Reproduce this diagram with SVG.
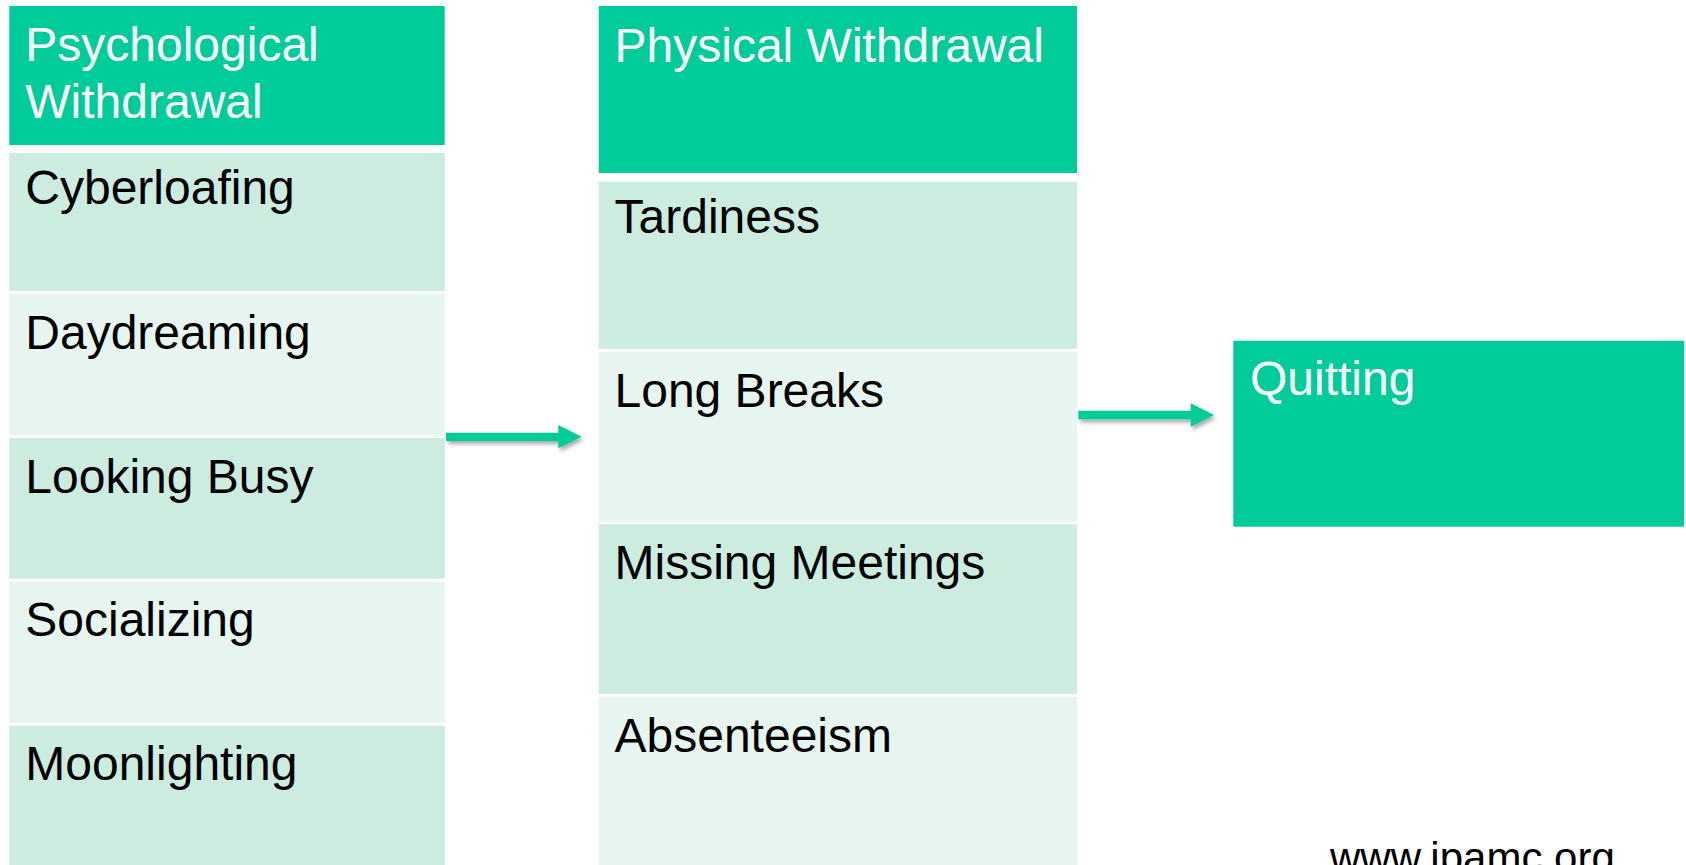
<svg xmlns="http://www.w3.org/2000/svg" width="1686" height="865" viewBox="0 0 1686 865">
  <style>
    .hdr { fill: #00CC99; }
    .dk { fill: #CCECE0; }
    .lt { fill: #E6F5EF; }
    .t { font-family: "Liberation Sans", Arial, sans-serif; font-size: 48px; }
    .th { fill: #FFFFFF; }
    .tb { fill: #000000; }
    .arrow { fill: #00CC99; filter: url(#shadow); }
    .wm { font-family: "Liberation Sans", Arial, sans-serif; font-size: 42px; fill: #000000; }
  </style>
  <defs>
    <filter id="shadow" x="-10%" y="-50%" width="130%" height="250%">
      <feDropShadow dx="2" dy="3" stdDeviation="2" flood-color="#000000" flood-opacity="0.35"/>
    </filter>
  </defs>
  <rect width="1686" height="865" fill="#FFFFFF"/>

  <g id="psych-header">
    <rect class="hdr" x="9.3" y="6" width="435.4" height="139"/>
    <text class="t th" x="25.3" y="61">Psychological</text>
    <text class="t th" x="25.3" y="118">Withdrawal</text>
  </g>
  <g id="cyberloafing">
    <rect class="dk" x="9.3" y="153" width="435.4" height="138"/>
    <text class="t tb" x="25.3" y="204">Cyberloafing</text>
  </g>
  <g id="daydreaming">
    <rect class="lt" x="9.3" y="294" width="435.4" height="141.3"/>
    <text class="t tb" x="25.3" y="349.3">Daydreaming</text>
  </g>
  <g id="looking-busy">
    <rect class="dk" x="9.3" y="438" width="435.4" height="140.7"/>
    <text class="t tb" x="25.3" y="493.3">Looking Busy</text>
  </g>
  <g id="socializing">
    <rect class="lt" x="9.3" y="582" width="435.4" height="141"/>
    <text class="t tb" x="25.3" y="636">Socializing</text>
  </g>
  <g id="moonlighting">
    <rect class="dk" x="9.3" y="725.7" width="435.4" height="140"/>
    <text class="t tb" x="25.3" y="780">Moonlighting</text>
  </g>

  <g id="phys-header">
    <rect class="hdr" x="598.7" y="6" width="478.3" height="167"/>
    <text class="t th" x="614.5" y="61.7">Physical Withdrawal</text>
  </g>
  <g id="tardiness">
    <rect class="dk" x="598.7" y="181.7" width="478.3" height="167.3"/>
    <text class="t tb" x="614.5" y="233.3">Tardiness</text>
  </g>
  <g id="long-breaks">
    <rect class="lt" x="598.7" y="351.7" width="478.3" height="170"/>
    <text class="t tb" x="614.5" y="406.7">Long Breaks</text>
  </g>
  <g id="missing-meetings">
    <rect class="dk" x="598.7" y="524.3" width="478.3" height="169.7"/>
    <text class="t tb" x="614.5" y="579">Missing Meetings</text>
  </g>
  <g id="absenteeism">
    <rect class="lt" x="598.7" y="696.7" width="478.3" height="169"/>
    <text class="t tb" x="614.5" y="751.7">Absenteeism</text>
  </g>

  <g id="quitting">
    <rect class="hdr" x="1233.3" y="340.7" width="450.7" height="186"/>
    <text class="t th" x="1250" y="395">Quitting</text>
  </g>

  <g id="connectors">
    <path class="arrow" d="M446,432.7 H558.3 V425 L581.7,436.8 L558.3,448.3 V441 H446 Z"/>
    <path class="arrow" d="M1078.3,410.7 H1190.7 V403.3 L1214,415 L1190.7,426.7 V419.3 H1078.3 Z"/>
  </g>

  <text class="wm" x="1330" y="872">www.ipamc.org</text>
</svg>
